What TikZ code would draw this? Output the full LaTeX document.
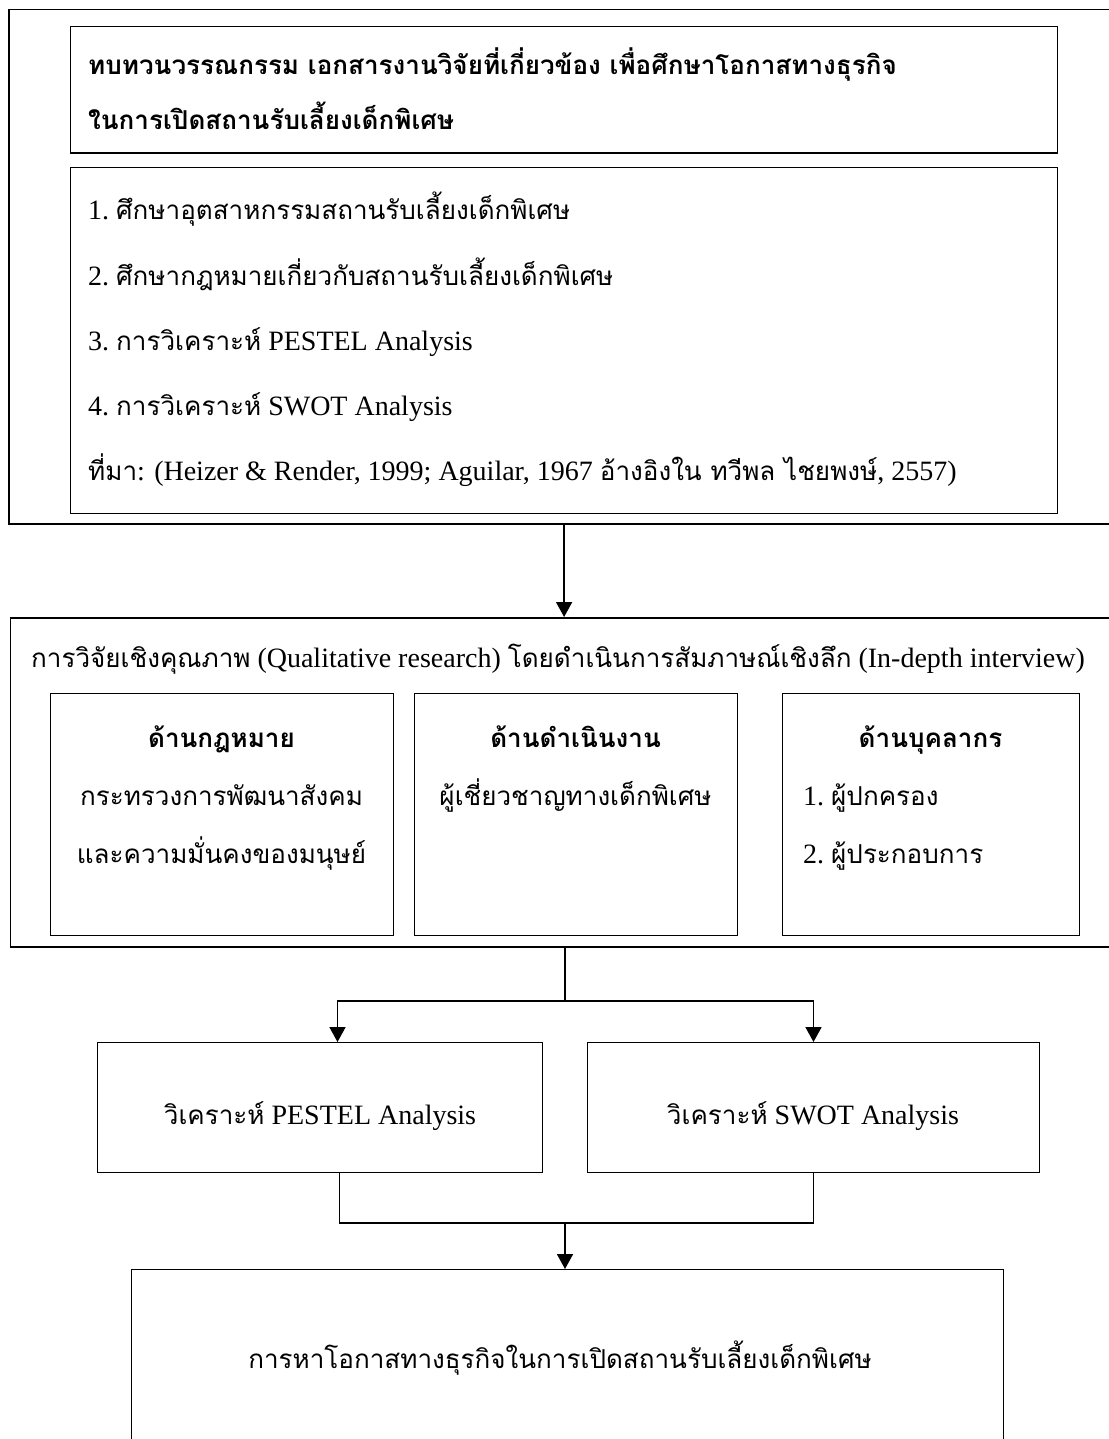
\documentclass[tikz,border=0pt]{standalone}
\usepackage{fontspec}
\setmainfont{Liberation Serif}
\newfontfamily\thaifont[Script=Thai,Scale=0.93]{Loma}
\newcommand{\thai}[1]{{\thaifont #1}}
\newcommand{\bodysize}{\fontsize{28}{32}\selectfont}
\usetikzlibrary{arrows.meta}

\tikzset{
  box/.style={draw, line width=1.2pt, anchor=north west, inner sep=0pt},
  frame/.style={draw, line width=1.5pt, anchor=north west, inner sep=0pt},
  txt/.style={anchor=base west, inner sep=0pt, font=\bodysize},
  ctxt/.style={anchor=base, inner sep=0pt, font=\bodysize},
  btxt/.style={anchor=base west, inner sep=0pt, font=\bodysize\bfseries},
  bctxt/.style={anchor=base, inner sep=0pt, font=\bodysize\bfseries},
  arr/.style={-{Triangle[length=15pt,width=16pt]}, line width=1.7pt},
  con/.style={line width=1.2pt}
}

\begin{document}
\begin{tikzpicture}[x=1pt,y=-1pt]
\useasboundingbox (0,0) rectangle (1108,1439);

% review of literature
\node[frame, minimum width=1130pt, minimum height=514pt] (review) at (8,9) {};
\node[box, minimum width=987pt, minimum height=126.5pt] (head) at (70,26) {};
\node[box, minimum width=987pt, minimum height=346pt] (list) at (70,167) {};

\node[btxt] (head1) at (88,75) {\thai{ทบทวนวรรณกรรม เอกสารงานวิจัยที่เกี่ยวข้อง เพื่อศึกษาโอกาสทางธุรกิจ}};
\node[btxt] (head2) at (88,130) {\thai{ในการเปิดสถานรับเลี้ยงเด็กพิเศษ}};

\node[txt] (item1) at (88,220) {1.\ \thai{ศึกษาอุตสาหกรรมสถานรับเลี้ยงเด็กพิเศษ}};
\node[txt] (item2) at (88,285) {2.\ \thai{ศึกษากฎหมายเกี่ยวกับสถานรับเลี้ยงเด็กพิเศษ}};
\node[txt] (item3) at (88,350) {3.\ \thai{การวิเคราะห์} PESTEL Analysis};
\node[txt] (item4) at (88,415) {4.\ \thai{การวิเคราะห์} SWOT Analysis};
\node[txt] (source) at (88,480) {\thai{ที่มา}: (Heizer \& Render, 1999; Aguilar, 1967 \thai{อ้างอิงใน ทวีพล ไชยพงษ์}, 2557)};

% qualitative research
\node[frame, minimum width=1130pt, minimum height=329pt] (method) at (9.5,617) {};
\node[ctxt] (mhead) at (558,667) {\thai{การวิจัยเชิงคุณภาพ} (Qualitative research) \thai{โดยดำเนินการสัมภาษณ์เชิงลึก} (In-depth interview)};

\node[box, minimum width=343pt, minimum height=242pt] (law) at (50,693) {};
\node[box, minimum width=323pt, minimum height=242pt] (oper) at (414,693) {};
\node[box, minimum width=297pt, minimum height=242pt] (staff) at (782,693) {};

\node[bctxt] (lawtitle) at (221.5,747) {\thai{ด้านกฎหมาย}};
\node[ctxt] (law1) at (221.5,805) {\thai{กระทรวงการพัฒนาสังคม}};
\node[ctxt] (law2) at (221.5,863) {\thai{และความมั่นคงของมนุษย์}};

\node[bctxt] (opertitle) at (575.5,747) {\thai{ด้านดำเนินงาน}};
\node[ctxt] (oper1) at (575.5,805) {\thai{ผู้เชี่ยวชาญทางเด็กพิเศษ}};

\node[bctxt] (stafftitle) at (930.5,747) {\thai{ด้านบุคลากร}};
\node[txt] (staff1) at (803,805) {1.\ \thai{ผู้ปกครอง}};
\node[txt] (staff2) at (803,863) {2.\ \thai{ผู้ประกอบการ}};

% analysis
\node[box, line width=1pt, minimum width=445pt, minimum height=130pt] (pestel) at (97,1042) {};
\node[box, line width=1pt, minimum width=452pt, minimum height=130pt] (swot) at (587,1042) {};
\node[ctxt] (pesteltext) at (320,1124) {\thai{วิเคราะห์} PESTEL Analysis};
\node[ctxt] (swottext) at (813,1124) {\thai{วิเคราะห์} SWOT Analysis};

% opportunity
\node[box, minimum width=872pt, minimum height=190pt] (goal) at (131,1269) {};
\node[ctxt] (goaltext) at (560,1368) {\thai{การหาโอกาสทางธุรกิจในการเปิดสถานรับเลี้ยงเด็กพิเศษ}};

% connectors
\coordinate (split) at (565,1001);
\coordinate (merge) at (565,1223);
\draw[arr] (list.south |- review.south) -- (list.south |- method.north);
\draw[con] (split |- method.south) -- (split);
\draw[arr] (split) -| ([xshift=17.5pt]pestel.north);
\draw[arr] (split) -| (swot.north);
\draw[con] ([xshift=19.5pt]pestel.south) |- (merge) -| (swot.south);
\draw[arr] (merge) -- (merge |- goal.north);
\end{tikzpicture}
\end{document}
